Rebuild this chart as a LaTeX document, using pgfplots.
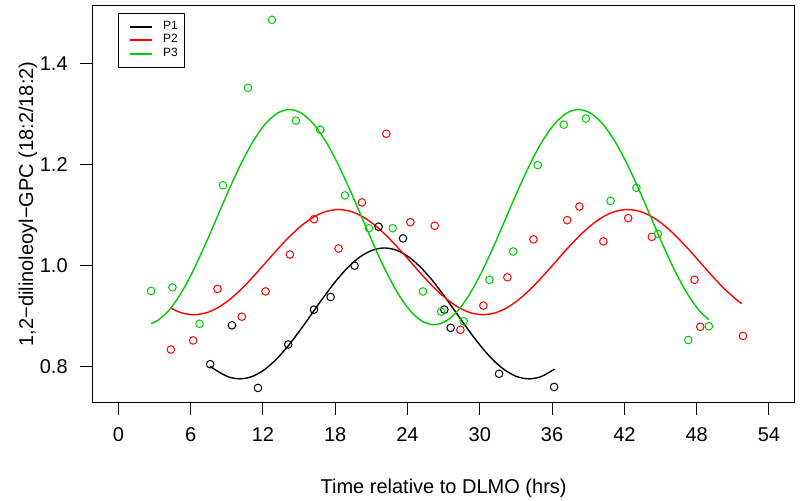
\documentclass[border=0pt]{standalone}
\usepackage{fontspec}
\setmainfont{Liberation Sans}
\usepackage{pgfplots}
\pgfplotsset{compat=1.18}
\definecolor{rgreen}{RGB}{0,205,0}
\definecolor{rred}{RGB}{255,0,0}
\begin{document}
\begin{tikzpicture}
\path[use as bounding box] (-46.15pt,-48.65pt) rectangle (353.85pt,201.35pt);
\begin{axis}[
  name=ax, at={(0,0)}, anchor=south west,
  scale only axis, width=351.35pt, height=198.85pt,
  xmin=-2.16, xmax=56.16, ymin=0.7288, ymax=1.5158,
  xtick={0,6,...,54}, ytick={0.8,1.0,1.2,1.4},
  yticklabel style={/pgf/number format/fixed,/pgf/number format/precision=1,/pgf/number format/fixed zerofill, xshift=-2.8pt},
  xticklabel style={yshift=-2.8pt},
  /pgf/number format/assume math mode=true,
  tick align=outside, major tick length=6pt,
  xtick pos=left, ytick pos=left,
  tick style={black, line width=0.5pt},
  axis line style={line width=0.5pt},
  font=\fontsize{10}{12}\selectfont,
  xlabel={Time relative to DLMO (hrs)},
  ylabel={1,2−dilinoleoyl−GPC (18:2/18:2)},
  xlabel style={at={(axis description cs:0.5,-0.2145)}, anchor=center},
  ylabel style={at={(axis description cs:-0.0915,0.5)}, anchor=center},
  legend style={at={(axis description cs:0.0366,0.980)}, anchor=north west,
    font=\fontsize{6}{7}\selectfont, inner xsep=3.5pt, inner ysep=3.5pt,
    nodes={inner xsep=0pt, inner ysep=0.5pt}, column sep=5pt},
  legend cell align=left,
  legend image code/.code={\path (0pt,0pt); \draw[#1] (2pt,0pt) -- (13pt,0pt);},
  mark size=1.9pt,
]
\addlegendimage{color=black, line width=0.9pt}
\addlegendimage{color=rred, line width=0.9pt}
\addlegendimage{color=rgreen, line width=0.9pt}
\legend{P1,P2,P3}
% curves (fitted)
\addplot[color=black, line width=0.7pt, smooth, no marks, forget plot] coordinates {
(7.62,0.8011) (8.08,0.7934) (9.08,0.7804) (10.08,0.776) (11.08,0.7804) (12.08,0.7934)
(13.08,0.8139) (14.08,0.8408) (15.08,0.872) (16.08,0.9055) (17.08,0.939) (18.08,0.9703)
(19.08,0.9971) (20.08,1.0176) (21.08,1.0306) (22.08,1.035) (23.08,1.0306) (24.08,1.0176)
(25.08,0.9971) (26.08,0.9703) (27.08,0.939) (28.08,0.9055) (29.08,0.872) (30.08,0.8408)
(31.08,0.8139) (32.08,0.7934) (33.08,0.7804) (34.08,0.776) (35.08,0.7804) (36.08,0.7934)
(36.19,0.7954)};
\addplot[color=rred, line width=0.7pt, smooth, no marks, forget plot] coordinates {
(4.36,0.9158) (5.27,0.9065) (6.27,0.903) (7.27,0.9065) (8.27,0.9169) (9.27,0.9335)
(10.27,0.955) (11.27,0.9801) (12.27,1.007) (13.27,1.0339) (14.27,1.059) (15.27,1.0805)
(16.27,1.0971) (17.27,1.1075) (18.27,1.111) (19.27,1.1075) (20.27,1.0971) (21.27,1.0805)
(22.27,1.059) (23.27,1.0339) (24.27,1.007) (25.27,0.9801) (26.27,0.955) (27.27,0.9335)
(28.27,0.9169) (29.27,0.9065) (30.27,0.903) (31.27,0.9065) (32.27,0.9169) (33.27,0.9335)
(34.27,0.955) (35.27,0.9801) (36.27,1.007) (37.27,1.0339) (38.27,1.059) (39.27,1.0805)
(40.27,1.0971) (41.27,1.1075) (42.27,1.111) (43.27,1.1075) (44.27,1.0971) (45.27,1.0805)
(46.27,1.059) (47.27,1.0339) (48.27,1.007) (49.27,0.9801) (50.27,0.955) (51.27,0.9335)
(51.75,0.9248)};
\addplot[color=rgreen, line width=0.7pt, smooth, no marks, forget plot] coordinates {
(2.72,0.8858) (3.2,0.8903) (4.2,0.9115) (5.2,0.9454) (6.2,0.9895) (7.2,1.0409) (8.2,1.096)
(9.2,1.1511) (10.2,1.2025) (11.2,1.2466) (12.2,1.2805) (13.2,1.3017) (14.2,1.309)
(15.2,1.3017) (16.2,1.2805) (17.2,1.2466) (18.2,1.2025) (19.2,1.1511) (20.2,1.096)
(21.2,1.0409) (22.2,0.9895) (23.2,0.9454) (24.2,0.9115) (25.2,0.8903) (26.2,0.883)
(27.2,0.8903) (28.2,0.9115) (29.2,0.9454) (30.2,0.9895) (31.2,1.0409) (32.2,1.096)
(33.2,1.1511) (34.2,1.2025) (35.2,1.2466) (36.2,1.2805) (37.2,1.3017) (38.2,1.309)
(39.2,1.3017) (40.2,1.2805) (41.2,1.2466) (42.2,1.2025) (43.2,1.1511) (44.2,1.096)
(45.2,1.0409) (46.2,0.9895) (47.2,0.9454) (48.2,0.9115) (49.01,0.8933)};
% observations
\addplot[black, only marks, mark=o, mark options={line width=0.5pt}, forget plot] coordinates {
(7.62,0.805) (9.43,0.882) (11.59,0.758) (14.1,0.844) (16.24,0.913) (17.62,0.938)
(19.61,1.000) (21.6,1.077) (23.63,1.054) (27.06,0.913) (27.58,0.877) (31.6,0.786) (36.17,0.760)};
\addplot[rred, only marks, mark=o, mark options={line width=0.5pt}, forget plot] coordinates {
(4.36,0.834) (6.21,0.852) (8.23,0.954) (10.25,0.899) (12.22,0.949) (14.24,1.022)
(16.24,1.092) (18.28,1.034) (20.22,1.125) (22.24,1.261) (24.24,1.086) (26.26,1.079)
(28.39,0.873) (30.3,0.921) (32.29,0.977) (34.45,1.052) (37.25,1.090) (38.27,1.117)
(40.26,1.048) (42.32,1.094) (44.28,1.057) (47.82,0.972) (48.3,0.879) (51.84,0.861)};
\addplot[rgreen, only marks, mark=o, mark options={line width=0.5pt}, forget plot] coordinates {
(2.72,0.950) (4.49,0.957) (6.74,0.885) (8.68,1.159) (10.76,1.352) (12.75,1.4865)
(14.74,1.287) (16.76,1.269) (18.81,1.139) (20.8,1.074) (22.77,1.074) (25.29,0.949)
(26.79,0.909) (28.67,0.890) (30.8,0.972) (32.77,1.028) (34.81,1.199) (36.97,1.279)
(38.8,1.291) (40.85,1.128) (43.0,1.154) (44.78,1.063) (47.3,0.853) (49.01,0.880)};
\end{axis}
\end{tikzpicture}
\end{document}
